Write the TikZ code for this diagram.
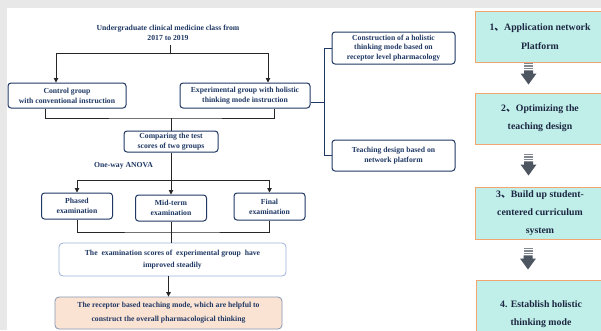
\documentclass[tikz,border=0pt]{standalone}
\usepackage{fontspec}
\setmainfont{Liberation Serif}
\newfontfamily\cjk{Noto Sans CJK SC}
\usetikzlibrary{arrows.meta, calc}

\definecolor{navy}{HTML}{1F3864}
\definecolor{stepink}{HTML}{1C2640}
\definecolor{paleblue}{HTML}{9DB1D8}
\definecolor{slateblue}{HTML}{8497B0}
\definecolor{peach}{HTML}{FBE3D4}
\definecolor{stepfill}{HTML}{C0EFEA}
\definecolor{stepline}{HTML}{F2A56E}
\definecolor{arrowgray}{HTML}{4D5561}
\definecolor{bggray}{HTML}{E8E8E8}

\begin{document}
\begin{tikzpicture}[
                        x=1pt, y=-1pt,
                        every node/.style={align=center, inner sep=0pt, text=navy,
                          font=\bfseries\fontsize{7.7}{9.8}\selectfont},
                        group/.style={rectangle, rounded corners=3pt, draw=navy, line width=1pt, fill=white},
                        result/.style={rectangle, rounded corners=4pt, draw=paleblue, line width=0.8pt, fill=white,
                          font=\bfseries\fontsize{7.7}{12.7}\selectfont},
                        summary/.style={rectangle, rounded corners=4pt, draw=slateblue, line width=0.8pt, fill=peach,
                          font=\bfseries\fontsize{7.7}{14}\selectfont},
                        stepbox/.style={rectangle, draw=stepline, line width=1pt, fill=stepfill, text=stepink,
                          minimum width=130pt, font=\bfseries\fontsize{9.8}{18.3}\selectfont},
                        line/.style={draw=black!85, line width=0.9pt},
                        arr/.style={line, -{Triangle[length=4.5pt,width=4.5pt]}},
                        bus/.style={draw=navy, line width=0.9pt},
                        blockarrow/.pic={
                          \fill[arrowgray!70] (-4.5,-11) rectangle (4.5,-9.6);
                          \fill[arrowgray!70] (-4.5,-8.4) rectangle (4.5,-7);
                          \fill[arrowgray!70] (-4.5,-5.8) rectangle (4.5,-4.4);
                          \fill[arrowgray] (-4.5,-3.2) -- (4.5,-3.2) -- (4.5,0) -- (8,0) -- (0,11)
                            -- (-8,0) -- (-4.5,0) -- cycle;
                        }
                        ]
  \clip (0,0) rectangle (601,330);
  \fill[bggray] (0,0) rectangle (601,330);
  \fill[white] (7,8) rectangle (601,330);

  % study design
  \node (title) at (168,33) {Undergraduate clinical medicine class from\\2017 to 2019};
  \node[group, minimum width=118pt, minimum height=25pt] (ctrl) at (67,95.5)
    {Control group\\with conventional instruction};
  \node[group, minimum width=130pt, minimum height=25pt] (expm) at (245,95.5)
    {Experimental group with holistic\\thinking mode instruction};
  \node[group, minimum width=123pt, minimum height=32pt] (constr) at (393.5,48)
    {Construction of a holistic\\thinking mode based on\\receptor level pharmacology};
  \node[group, minimum width=123pt, minimum height=31pt] (teach) at (393.5,155.5)
    {Teaching design based on\\network platform};
  \node[group, minimum width=94pt, minimum height=21pt] (comp) at (171,141.5)
    {Comparing the test\\scores of two groups};
  \node (anova) at (123.5,166) {One-way ANOVA};

  % examinations
  \node[group, minimum width=71pt, minimum height=26pt] (phased) at (77,206) {Phased\\examination};
  \node[group, minimum width=71pt, minimum height=26pt] (mid) at (171,208) {Mid-term\\examination};
  \node[group, minimum width=71pt, minimum height=27pt] (final) at (269.5,206.5) {Final\\examination};
  \node[result, minimum width=227pt, minimum height=33pt] (scores) at (172.5,259.5)
    {The~ examination scores of~ experimental group~ have\\improved steadily};
  \node[summary, minimum width=227pt, minimum height=32pt] (recep) at (168.5,313)
    {The receptor based teaching mode, which are helpful to\\construct the overall pharmacological thinking};

  % connectors
  \draw[line] ([shift={(2,4)}]title.south) -- ++(0,9) coordinate (tsplit);
  \draw[arr] (tsplit) -| ([xshift=-11pt]ctrl.north);
  \draw[arr] (tsplit) -| ([xshift=23pt]expm.north);
  \coordinate (cjoin) at (comp.north |- 0,118);
  \draw[line] ([xshift=-22pt]ctrl.south) |- (cjoin) -| ([xshift=29pt]expm.south);
  \draw[line] (cjoin) -- (comp.north);
  \draw[bus] (constr.west) -- ++(-7,0) coordinate (btop) |- (teach.west);
  \draw[bus] ([yshift=-6.5pt]expm.east) -- ([yshift=-6.5pt]expm.east -| btop);
  \coordinate (ejoin) at (comp.south |- 0,180);
  \draw[line] (comp.south) -- (ejoin);
  \draw[arr] (ejoin) -- (ejoin |- mid.north);
  \draw[arr] (ejoin) -| (phased.north);
  \draw[arr] (ejoin) -| (final.north);
  \coordinate (sjoin) at (mid.south |- 0,232);
  \draw[line] (phased.south) |- (sjoin) -| (final.south);
  \draw[line] (mid.south) -- (mid.south |- scores.north);
  \draw[arr] (scores.south -| recep.north) -- (recep.north);

  % reform steps
  \node[stepbox, minimum height=51pt] (s1) at (540,36.5) {1{\cjk 、}Application network\\Platform};
  \node[stepbox, minimum height=51pt] (s2) at (540,118.5) {2{\cjk 、}Optimizing the\\teaching design};
  \node[stepbox, minimum height=52pt] (s3) at (540,213) {3{\cjk 、}Build up student-\\centered curriculum\\system};
  \node[stepbox, minimum height=68pt] (s4) at (541,314) {4. Establish holistic\\thinking mode};
  \pic at ($(s1.south)!0.5!(s2.north)+(-11.5,-4)$) {blockarrow};
  \pic at ($(s2.south)!0.5!(s3.north)+(-11.5,-1)$) {blockarrow};
  \pic at ($(s3.south)!0.5!(s4.north)+(-12.5,-1)$) {blockarrow};
\end{tikzpicture}
\end{document}
